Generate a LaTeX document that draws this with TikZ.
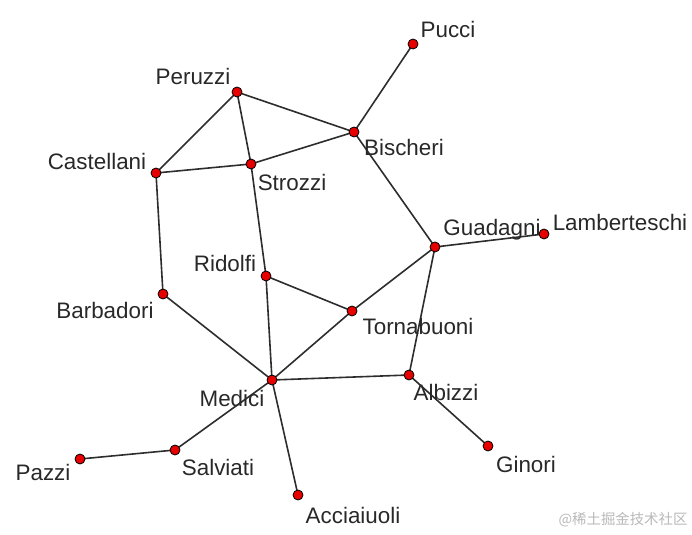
\documentclass[tikz,border=0pt]{standalone}
\usepackage{fontspec}
\setmainfont{Liberation Sans}
\newfontfamily\cjk{Noto Sans CJK SC}
\usetikzlibrary{positioning,backgrounds}
\definecolor{vred}{RGB}{230,0,0}
\definecolor{edgegray}{RGB}{45,45,45}
\definecolor{txtgray}{RGB}{40,40,40}
\definecolor{wmgray}{RGB}{185,185,185}

\begin{document}
\begin{tikzpicture}[x=0.5pt,y=-0.5pt,
  v/.style={circle,draw=black,fill=vred,line width=0.4pt,inner sep=0pt,minimum size=5pt},
  t/.style={text=txtgray,font=\fontsize{11.2}{13}\selectfont,inner sep=0pt},
  e/.style={draw=edgegray,line width=0.8pt}]
\useasboundingbox (0,0) rectangle (692,535);
% families
\node[v] (pucci) at (413,44) {};
\node[v] (peruzzi) at (237,92) {};
\node[v] (bischeri) at (354,132) {};
\node[v] (castellani) at (156,173) {};
\node[v] (strozzi) at (251,164) {};
\node[v] (guadagni) at (435,247) {};
\node[v] (lamberteschi) at (544,234) {};
\node[v] (ridolfi) at (266,276) {};
\node[v] (barbadori) at (163,294) {};
\node[v] (tornabuoni) at (352,311) {};
\node[v] (medici) at (272,380) {};
\node[v] (albizzi) at (409,375) {};
\node[v] (ginori) at (488,446) {};
\node[v] (pazzi) at (80,459) {};
\node[v] (salviati) at (175,450) {};
\node[v] (acciaiuoli) at (298,495) {};
% names
\node[t] (pucci-t) at (448,29) {Pucci};
\node[t] (peruzzi-t) at (193,76) {Peruzzi};
\node[t] (bischeri-t) at (404,147) {Bischeri};
\node[t] (castellani-t) at (97,161) {Castellani};
\node[t] (strozzi-t) at (292,182) {Strozzi};
\node[t] (guadagni-t) at (492,230) {Guadagni};
\node[t] (lamberteschi-t) at (620,222) {Lamberteschi};
\node[t] (ridolfi-t) at (225,263) {Ridolfi};
\node[t] (barbadori-t) at (105,310) {Barbadori};
\node[t] (tornabuoni-t) at (418,326) {Tornabuoni};
\node[t] (medici-t) at (232,398) {Medici};
\node[t] (albizzi-t) at (446,392) {Albizzi};
\node[t] (ginori-t) at (526,464) {Ginori};
\node[t] (pazzi-t) at (43,472) {Pazzi};
\node[t] (salviati-t) at (218,467) {Salviati};
\node[t] (acciaiuoli-t) at (353,515) {Acciaiuoli};
% ties
\begin{scope}[on background layer]
\foreach \a/\b in {pucci/bischeri,peruzzi/bischeri,peruzzi/strozzi,peruzzi/castellani,
  castellani/strozzi,strozzi/bischeri,bischeri/guadagni,castellani/barbadori,
  strozzi/ridolfi,guadagni/lamberteschi,guadagni/tornabuoni,guadagni/albizzi,
  ridolfi/tornabuoni,ridolfi/medici,barbadori/medici,tornabuoni/medici,
  medici/albizzi,medici/salviati,medici/acciaiuoli,albizzi/ginori,salviati/pazzi}
  \draw[e] (\a.center) -- (\b.center);
\end{scope}
\node[text=wmgray,font=\cjk\fontsize{7.2}{9}\selectfont,inner sep=0pt] (wm) at (623,520) {@稀土掘金技术社区};
\end{tikzpicture}
\end{document}
